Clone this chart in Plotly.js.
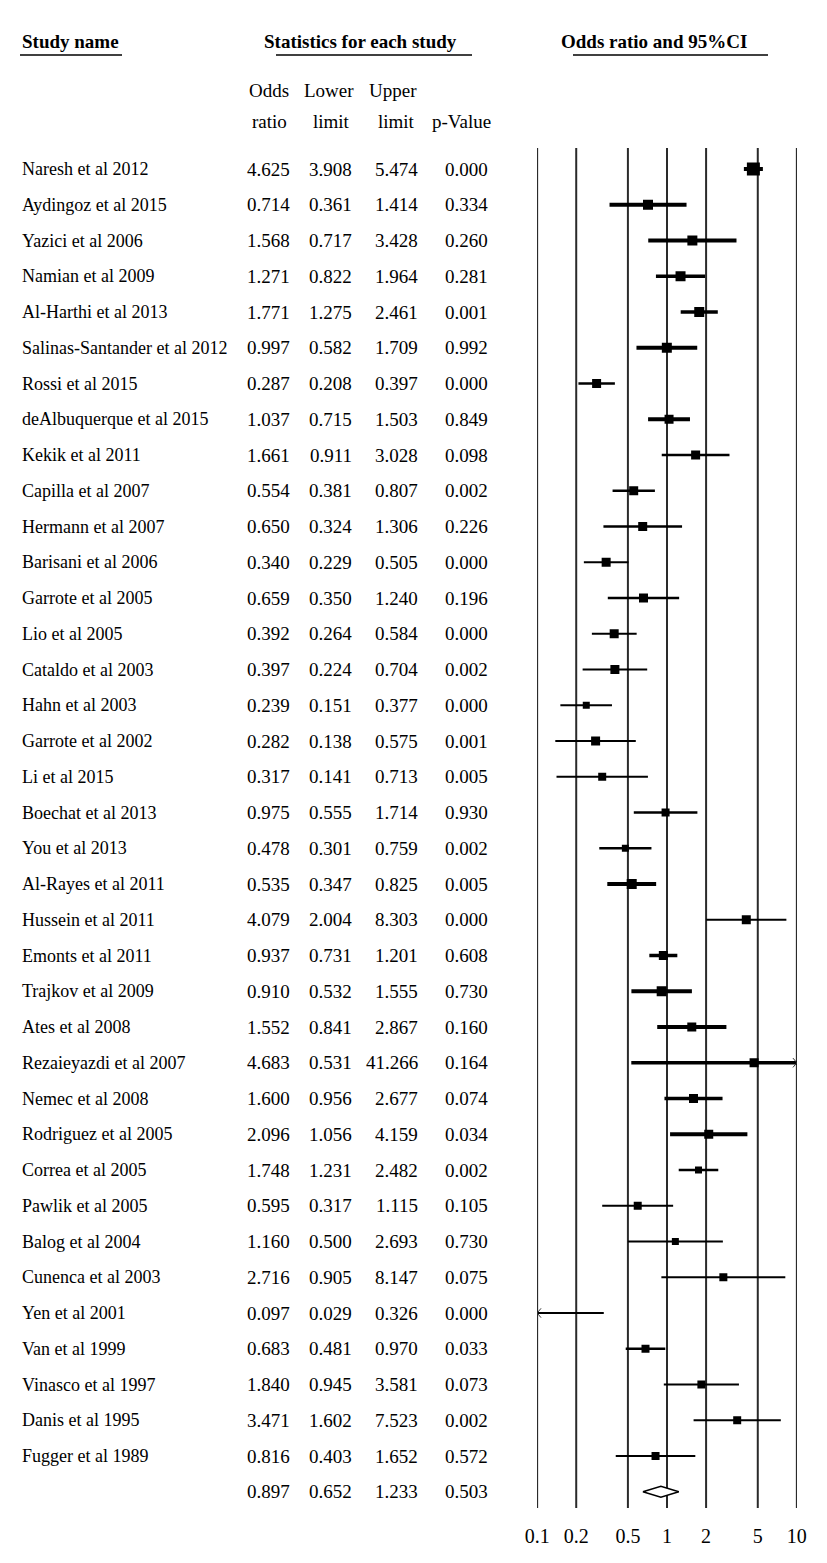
<!DOCTYPE html>
<html>
<head>
<meta charset="utf-8">
<script src="https://cdn.plot.ly/plotly-3.0.1.min.js"></script>
<style>
html,body{margin:0;padding:0;background:#fff;}
#chart{width:827px;height:1563px;}
</style>
</head>
<body>
<div id="chart"></div>
<script>
// ---------------- data ----------------
const studies = [
  "Naresh et al 2012","Aydingoz et al 2015","Yazici et al 2006","Namian et al 2009",
  "Al-Harthi et al 2013","Salinas-Santander et al 2012","Rossi et al 2015","deAlbuquerque et al 2015",
  "Kekik et al 2011","Capilla et al 2007","Hermann et al 2007","Barisani et al 2006",
  "Garrote et al 2005","Lio et al 2005","Cataldo et al 2003","Hahn et al 2003",
  "Garrote et al 2002","Li et al 2015","Boechat et al 2013","You et al 2013",
  "Al-Rayes et al 2011","Hussein et al 2011","Emonts et al 2011","Trajkov et al 2009",
  "Ates et al 2008","Rezaieyazdi et al 2007","Nemec et al 2008","Rodriguez et al 2005",
  "Correa et al 2005","Pawlik et al 2005","Balog et al 2004","Cunenca et al 2003",
  "Yen et al 2001","Van et al 1999","Vinasco et al 1997","Danis et al 1995","Fugger et al 1989"
];
const oddsRatio = [4.625,0.714,1.568,1.271,1.771,0.997,0.287,1.037,1.661,0.554,0.650,0.340,
  0.659,0.392,0.397,0.239,0.282,0.317,0.975,0.478,0.535,4.079,0.937,0.910,1.552,4.683,1.600,
  2.096,1.748,0.595,1.160,2.716,0.097,0.683,1.840,3.471,0.816];
const lowerLimit = [3.908,0.361,0.717,0.822,1.275,0.582,0.208,0.715,0.911,0.381,0.324,0.229,
  0.350,0.264,0.224,0.151,0.138,0.141,0.555,0.301,0.347,2.004,0.731,0.532,0.841,0.531,0.956,
  1.056,1.231,0.317,0.500,0.905,0.029,0.481,0.945,1.602,0.403];
const upperLimit = [5.474,1.414,3.428,1.964,2.461,1.709,0.397,1.503,3.028,0.807,1.306,0.505,
  1.240,0.584,0.704,0.377,0.575,0.713,1.714,0.759,0.825,8.303,1.201,1.555,2.867,41.266,2.677,
  4.159,2.482,1.115,2.693,8.147,0.326,0.970,3.581,7.523,1.652];
const pValue = [0.000,0.334,0.260,0.281,0.001,0.992,0.000,0.849,0.098,0.002,0.226,0.000,
  0.196,0.000,0.002,0.000,0.001,0.005,0.930,0.002,0.005,0.000,0.608,0.730,0.160,0.164,0.074,
  0.034,0.002,0.105,0.730,0.075,0.000,0.033,0.073,0.002,0.572];
const summaryOR = 0.897, summaryLower = 0.652, summaryUpper = 1.233, summaryP = 0.503;
const xTicks = [0.1,0.2,0.5,1,2,5,10];
const xTickText = ["0.1","0.2","0.5","1","2","5","10"];

// ---------------- styles (study weight appearance) ----------------
const ciWidth = [4,4,4,3.5,3.5,4,2.5,4,2.5,2.5,2.5,2,2.5,2,2,2,2,2,2.5,2.5,
  4,2,3.5,4,4,3.5,3.5,4,2.5,2,2,2,2,2.5,2,2,2];
const boxSize = [13,10,10,10,10,10,9,9,9,9,9,9,9,9,9,7,9,8,8,7,
  10,9,9,10,9,9,9,9,7,8,7,8,8,8,8,8,8];

// ---------------- layout geometry ----------------
const W = 827, H = 1563;
const rowTop = 169, rowStep = 35.75, plotBottom = 1510;
const axLeft = 537, axRight = 797;
const FONT = "Liberation Serif, Times New Roman, serif";
const xMin = 0.1, xMax = 10;
const xMinLog = Math.log10(xMin) - 0.001, xMaxLog = Math.log10(xMax) + 0.001;
const toRow = p => (p - rowTop) / rowStep;
const pxX = p => p / W;
const pxY = p => 1 - p / H;

const traces = [];
// vertical reference lines
const vx = [], vy = [];
const lineTop = toRow(148), lineBot = toRow(1508);
xTicks.forEach(t => { vx.push(t, t, null); vy.push(lineTop, lineBot, null); });
traces.push({type:"scatter", mode:"lines", x:vx, y:vy, line:{color:"#2a2a2a", width:2},
  hoverinfo:"skip"});

// CI lines
studies.forEach((s, i) => {
  traces.push({type:"scatter", mode:"lines", x:[lowerLimit[i], upperLimit[i]], y:[i, i],
    line:{color:"#000", width:ciWidth[i]}, hoverinfo:"skip"});
});
// chevrons where a CI runs past the axis
const chX = [], chY = [], f = Math.pow(10, 0.03), hh = 0.13;
studies.forEach((s, i) => {
  if (upperLimit[i] > xMax) { chX.push(xMax / f, xMax, xMax / f, null); chY.push(i - hh, i, i + hh, null); }
  if (lowerLimit[i] < xMin) { chX.push(xMin * f, xMin, xMin * f, null); chY.push(i - hh, i, i + hh, null); }
});
traces.push({type:"scatter", mode:"lines", x:chX, y:chY, line:{color:"#333", width:1},
  cliponaxis:false, hoverinfo:"skip"});
// point estimates (only those inside the axis range are visible)
traces.push({type:"scatter", mode:"markers",
  x:oddsRatio.map(v => (v >= xMin && v <= xMax) ? v : null), y:studies.map((s,i)=>i),
  marker:{symbol:"square", size:boxSize, color:"#000", opacity:1, line:{width:0}},
  opacity:1, text:studies, hoverinfo:"text+x"});
// summary diamond
const sRow = studies.length, dh = 0.15;
traces.push({type:"scatter", mode:"lines", fill:"toself", fillcolor:"#fff",
  x:[summaryLower, summaryOR, summaryUpper, summaryOR, summaryLower],
  y:[sRow, sRow - dh, sRow, sRow + dh, sRow],
  line:{color:"#000", width:1.5}, hoverinfo:"skip"});

// ---------------- annotations ----------------
const ann = [];
const txt = (text, x, y, xanchor, yref, size) => ({
  text, x, y, xref:"paper", yref:yref || "y", xanchor, yanchor:"middle", showarrow:false,
  font:{family:FONT, size:size || 19, color:"#000"}});

// headers
ann.push(txt("<b>Study name</b>", pxX(20), pxY(42), "left", "paper"));
ann.push(txt("<b>Statistics for each study</b>", pxX(262), pxY(42), "left", "paper"));
ann.push(txt("<b>Odds ratio and 95%CI</b>", pxX(559), pxY(42), "left", "paper"));
ann.push(txt("Odds", pxX(269), pxY(90), "center", "paper"));
ann.push(txt("ratio", pxX(269), pxY(122), "center", "paper"));
ann.push(txt("Lower", pxX(329), pxY(90), "center", "paper"));
ann.push(txt("limit", pxX(331), pxY(122), "center", "paper"));
ann.push(txt("Upper", pxX(393), pxY(90), "center", "paper"));
ann.push(txt("limit", pxX(396), pxY(122), "center", "paper"));
ann.push(txt("p-Value", pxX(461), pxY(122), "center", "paper"));

const colRight = [292, 354, 420, 490];
studies.forEach((s, i) => {
  ann.push(txt(s, pxX(20), i, "left", "y", 18));
  ann.push(txt(oddsRatio[i].toFixed(3), pxX(colRight[0]), i, "right"));
  ann.push(txt(lowerLimit[i].toFixed(3), pxX(colRight[1]), i, "right"));
  ann.push(txt(upperLimit[i].toFixed(3), pxX(colRight[2]), i, "right"));
  ann.push(txt(pValue[i].toFixed(3), pxX(colRight[3]), i, "right"));
});
ann.push(txt(summaryOR.toFixed(3), pxX(colRight[0]), sRow, "right"));
ann.push(txt(summaryLower.toFixed(3), pxX(colRight[1]), sRow, "right"));
ann.push(txt(summaryUpper.toFixed(3), pxX(colRight[2]), sRow, "right"));
ann.push(txt(summaryP.toFixed(3), pxX(colRight[3]), sRow, "right"));

// header underlines
const shapes = [[20,122],[276,472],[573,768]].map(([a,b]) => ({
  type:"line", xref:"paper", yref:"paper", x0:pxX(a), x1:pxX(b), y0:pxY(55), y1:pxY(55),
  line:{color:"#000", width:1.5}}));

const layout = {
  width:W, height:H, margin:{l:0, r:0, t:0, b:0},
  paper_bgcolor:"#fff", plot_bgcolor:"#fff", showlegend:false,
  xaxis:{type:"log", range:[xMinLog, xMaxLog], domain:[pxX(axLeft), pxX(axRight)],
    tickvals:xTicks, ticktext:xTickText, showgrid:false, zeroline:false, showline:false,
    ticks:"outside", ticklen:8, tickcolor:"rgba(0,0,0,0)",
    tickfont:{family:FONT, size:20, color:"#000"}, fixedrange:true},
  yaxis:{range:[toRow(plotBottom), toRow(0)], domain:[(H - plotBottom)/H, 1],
    visible:false, fixedrange:true},
  annotations:ann, shapes:shapes
};
Plotly.newPlot("chart", traces, layout, {displayModeBar:false, staticPlot:true});
</script>
</body>
</html>
